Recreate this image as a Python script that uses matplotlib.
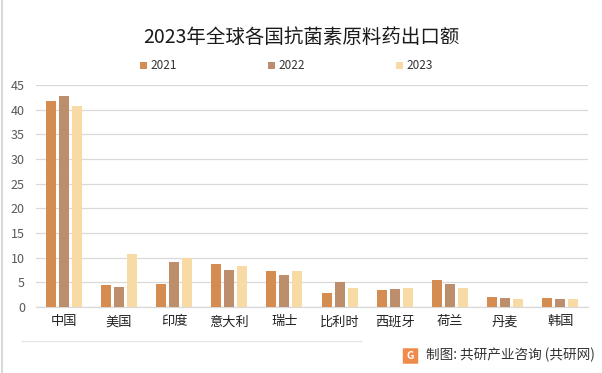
import matplotlib.pyplot as plt
import numpy as np
from matplotlib.patches import FancyBboxPatch
from matplotlib.lines import Line2D

plt.rcParams['font.family'] = ['Noto Sans CJK SC', 'DejaVu Sans']

countries = ['中国', '美国', '印度', '意大利', '瑞士', '比利时', '西班牙', '荷兰', '丹麦', '韩国']
years = ['2021', '2022', '2023']
v2021 = [41.8, 4.5, 4.7, 8.7, 7.3, 2.8, 3.4, 5.5, 2.1, 1.8]
v2022 = [42.8, 4.1, 9.1, 7.5, 6.5, 5.1, 3.6, 4.6, 1.8, 1.6]
v2023 = [40.8, 10.8, 9.9, 8.3, 7.3, 3.9, 3.9, 3.9, 1.6, 1.6]
yticks = [0, 5, 10, 15, 20, 25, 30, 35, 40, 45]

colors = ['#D48C50', '#BC8E6C', '#F7DAA4']

fig = plt.figure(figsize=(6.02, 3.73), dpi=100)
ax = fig.add_axes([0.0598, 0.177, 0.9169, 0.595])

x = np.arange(len(countries))
w = 0.18
step = 0.235
for i, (vals, c) in enumerate(zip([v2021, v2022, v2023], colors)):
    ax.bar(x + (i - 1) * step, vals, width=w, color=c, zorder=3)

ax.set_xlim(-0.5, len(countries) - 0.5)
ax.set_ylim(0, 45)
ax.set_yticks(yticks)
ax.set_yticklabels([str(t) for t in yticks], fontsize=9, color='#595959')
ax.set_xticks(x)
ax.set_xticklabels(countries, fontsize=9.5, color='#222222')
ax.tick_params(axis='both', length=0)
ax.tick_params(axis='x', pad=6)
ax.tick_params(axis='y', pad=8)
ax.grid(axis='y', color='#D9D9D9', linewidth=0.9, zorder=0)
for s in ['top', 'right', 'left']:
    ax.spines[s].set_visible(False)
ax.spines['bottom'].set_color('#D9D9D9')
ax.spines['bottom'].set_linewidth(0.9)

fig.text(0.5, 0.9, '2023年全球各国抗菌素原料药出口额', ha='center', va='center',
         fontsize=14, color='#1a1a1a')

# legend
lx = [140, 268, 396]
for px, yr, c in zip(lx, years, colors):
    fig.patches.append(FancyBboxPatch((px / 602, 1 - 69 / 373), 7 / 602, 7 / 373,
                                      boxstyle='square,pad=0', transform=fig.transFigure,
                                      facecolor=c, edgecolor='none'))
    fig.text((px + 10) / 602, 1 - 65.5 / 373, yr, ha='left', va='center',
             fontsize=8.5, color='#333333')

# bottom separator and source
fig.add_artist(Line2D([22 / 602, 0.6], [1 - 341 / 373] * 2, transform=fig.transFigure,
                      color='#E6E6E6', linewidth=1))
fig.add_artist(Line2D([2 / 602] * 2, [0, 1], transform=fig.transFigure,
                      color='#D9D9D9', linewidth=1.5))
fig.patches.append(FancyBboxPatch((404 / 602, 1 - 363 / 373), 13 / 602, 14 / 373,
                                  boxstyle='round,pad=0.002', transform=fig.transFigure,
                                  facecolor='#F08A4B', edgecolor='none'))
fig.text(410.5 / 602, 1 - 356 / 373, 'G', ha='center', va='center', fontsize=7.5,
         color='white', fontweight='bold')
fig.text(426 / 602, 1 - 355 / 373, '制图: 共研产业咨询 (共研网)', ha='left', va='center',
         fontsize=9.8, color='#333333')

fig.savefig('out.png', dpi=100)
